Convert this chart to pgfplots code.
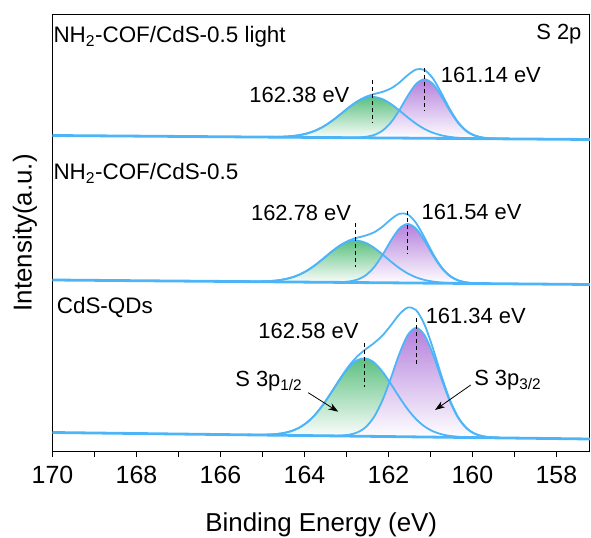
\documentclass[border=0pt]{standalone}
\usepackage{fontspec}
\setmainfont{Liberation Sans}
\usepackage{pgfplots}
\usepackage{pgfplotstable}
\pgfplotsset{compat=1.18}
\usetikzlibrary{arrows.meta}
\definecolor{lb}{RGB}{77,181,247}
\definecolor{gT}{RGB}{92,192,128}
\definecolor{pT}{RGB}{180,128,220}

\pgfplotstableread{
e b g p env
159.34 100.09 100.09 100.20 100.20
159.54 100.19 100.20 100.61 100.62
159.74 100.29 100.32 101.64 101.67
159.94 100.39 100.48 104.17 104.26
160.14 100.49 100.74 109.72 109.97
160.34 100.60 101.22 120.22 120.84
160.54 100.70 102.11 137.07 138.48
160.74 100.80 103.78 159.59 162.57
160.94 100.90 106.73 183.75 189.58
161.14 101.00 111.55 202.77 213.32
161.34 101.10 118.80 210.10 227.80
161.54 101.20 128.68 202.97 230.45
161.74 101.31 140.80 184.16 223.65
161.94 101.41 153.95 160.20 212.74
162.14 101.51 166.23 137.88 202.60
162.34 101.61 175.40 121.23 195.02
162.54 101.71 179.59 110.94 188.82
162.74 101.81 177.91 105.59 181.69
162.94 101.92 170.76 103.27 172.11
163.14 102.02 159.66 102.44 160.08
163.34 102.12 146.81 102.23 146.92
163.54 102.22 134.29 102.22 134.29
163.74 102.32 123.62 102.32 123.62
163.94 102.42 115.52 102.42 115.52
164.14 102.53 109.99 102.53 109.99
164.34 102.63 106.56 102.63 106.56
164.54 102.73 104.65 102.73 104.65
164.74 102.83 103.70 102.83 103.70
164.94 102.93 103.29 102.93 103.29
165.14 103.04 103.18 103.04 103.18
165.34 103.14 103.19 103.14 103.19
}\qd

\pgfplotstableread{
e b g p env
159.54 254.32 254.32 254.34 254.34
159.74 254.39 254.40 254.46 254.47
159.94 254.46 254.48 254.74 254.76
160.14 254.53 254.58 255.53 255.58
160.34 254.61 254.74 257.55 257.68
160.54 254.68 255.01 262.03 262.36
160.74 254.75 255.51 270.31 271.07
160.94 254.82 256.42 282.70 284.30
161.14 254.89 258.03 297.17 300.31
161.34 254.96 260.64 309.25 314.93
161.54 255.03 264.56 314.03 323.56
161.74 255.10 269.90 309.39 324.19
161.94 255.17 276.43 297.45 318.71
162.14 255.24 283.53 283.12 311.41
162.34 255.31 290.16 270.87 305.72
162.54 255.38 295.11 262.73 302.46
162.74 255.45 297.39 258.39 300.33
162.94 255.52 296.50 256.52 297.50
163.14 255.59 292.66 255.87 292.94
163.34 255.66 286.70 255.73 286.77
163.54 255.73 279.79 255.73 279.79
163.74 255.80 273.07 255.80 273.07
163.94 255.88 267.35 255.88 267.35
164.14 255.95 263.01 255.95 263.01
164.34 256.02 260.04 256.02 260.04
164.54 256.09 258.21 256.09 258.21
164.74 256.16 257.19 256.16 257.19
164.94 256.22 256.69 256.22 256.69
165.14 256.29 256.48 256.29 256.48
165.34 256.36 256.44 256.36 256.44
165.54 256.43 256.46 256.43 256.46
}\cof

\pgfplotstableread{
e b g p env
159.14 399.11 399.11 399.13 399.13
159.34 399.17 399.18 399.24 399.25
159.54 399.23 399.25 399.51 399.53
159.74 399.29 399.34 400.29 400.34
159.94 399.36 399.49 402.30 402.43
160.14 399.42 399.74 406.77 407.09
160.34 399.48 400.22 415.04 415.78
160.54 399.54 401.11 427.42 428.99
160.74 399.61 402.67 441.89 444.95
160.94 399.67 405.22 453.96 459.51
161.14 399.73 409.03 458.73 468.03
161.34 399.79 414.23 454.08 468.52
161.54 399.86 420.62 442.14 462.90
161.74 399.92 427.54 427.80 455.42
161.94 399.98 434.00 415.54 449.56
162.14 400.04 438.83 407.39 446.18
162.34 400.11 441.05 403.05 443.99
162.54 400.17 440.17 401.17 441.17
162.74 400.23 436.41 400.51 436.69
162.94 400.29 430.59 400.36 430.66
163.14 400.36 423.85 400.36 423.85
163.34 400.42 417.28 400.42 417.28
163.54 400.48 411.68 400.48 411.68
163.74 400.54 407.43 400.54 407.43
163.94 400.61 404.53 400.61 404.53
164.14 400.67 402.74 400.67 402.74
164.34 400.73 401.74 400.73 401.74
164.54 400.79 401.25 400.79 401.25
164.74 400.86 401.05 400.86 401.05
164.94 400.92 400.99 400.92 400.99
165.14 400.98 401.00 400.98 401.00
}\lig

\begin{document}
\begin{tikzpicture}
\begin{axis}[
  scale only axis, width=537.5bp, height=436.5bp,
  x dir=reverse, xmin=157.2, xmax=170, ymin=87, ymax=523.5,
  xtick={158,160,162,164,166,168,170}, minor xtick={159,161,163,165,167,169},
  xtick pos=left, ytick=\empty,
  tick align=outside, major tick length=6bp, minor tick length=6bp,
  every tick/.style={black, line width=1bp},
  axis line style={black, line width=1bp},
  /pgf/number format/assume math mode=true,
  xticklabel style={font=\fontsize{25}{29}\selectfont, yshift=-6bp},
  xlabel={Binding Energy (eV)}, ylabel={Intensity(a.u.)},
  label style={font=\fontsize{26}{30}\selectfont},
  xlabel style={at={(axis description cs:0.5,0)}, anchor=base, yshift=-80bp},
  ylabel style={at={(axis description cs:-0.0512,0.5)}, anchor=center},
  every axis plot/.append style={smooth},
]
\coordinate (LL) at (axis cs:170,87);
\coordinate (UR) at (axis cs:157.2,523.5);
% fills
\addplot[draw=none, top color=gT, bottom color=white] table[x=e,y=g] {\qd};
\addplot[draw=none, top color=pT, bottom color=white] table[x=e,y=p] {\qd};
\addplot[draw=none, top color=gT, bottom color=white] table[x=e,y=g] {\cof};
\addplot[draw=none, top color=pT, bottom color=white] table[x=e,y=p] {\cof};
\addplot[draw=none, top color=gT, bottom color=white] table[x=e,y=g] {\lig};
\addplot[draw=none, top color=pT, bottom color=white] table[x=e,y=p] {\lig};
% outlines
\addplot[lb, line width=1.8bp] table[x=e,y=g] {\qd};
\addplot[lb, line width=1.8bp] table[x=e,y=p] {\qd};
\addplot[lb, line width=1.8bp] table[x=e,y=env] {\qd};
\addplot[lb, line width=1.8bp] table[x=e,y=g] {\cof};
\addplot[lb, line width=1.8bp] table[x=e,y=p] {\cof};
\addplot[lb, line width=1.8bp] table[x=e,y=env] {\cof};
\addplot[lb, line width=1.8bp] table[x=e,y=g] {\lig};
\addplot[lb, line width=1.8bp] table[x=e,y=p] {\lig};
\addplot[lb, line width=1.8bp] table[x=e,y=env] {\lig};
% backgrounds
\addplot[lb, line width=2.8bp, sharp plot] coordinates {(170,105.5) (157.2,99)};
\addplot[lb, line width=2.8bp, sharp plot] coordinates {(170,258) (157.2,253.5)};
\addplot[lb, line width=2.8bp, sharp plot] coordinates {(170,402.5) (157.2,398.5)};
% dashed markers
\addplot[black, sharp plot, line width=0.9bp, dash pattern=on 4bp off 3bp] coordinates {(162.58,195) (162.58,151)};
\addplot[black, sharp plot, line width=0.9bp, dash pattern=on 4bp off 3bp] coordinates {(161.34,219.7) (161.34,174)};
\addplot[black, sharp plot, line width=0.9bp, dash pattern=on 4bp off 3bp] coordinates {(162.78,314.7) (162.78,270.7)};
\addplot[black, sharp plot, line width=0.9bp, dash pattern=on 4bp off 3bp] coordinates {(161.54,327) (161.54,284)};
\addplot[black, sharp plot, line width=0.9bp, dash pattern=on 4bp off 3bp] coordinates {(162.38,458) (162.38,415.3)};
\addplot[black, sharp plot, line width=0.9bp, dash pattern=on 4bp off 3bp] coordinates {(161.14,469.7) (161.14,427.3)};
% labels
\begin{scope}[every node/.style={font=\fontsize{22}{26}\selectfont, inner sep=0pt}]
\node[anchor=base] at (axis cs:163.905,199.7) {162.58 eV};
\node[anchor=base] at (axis cs:159.92,214.7) {161.34 eV};
\node[anchor=base] at (axis cs:164.08,317) {162.78 eV};
\node[anchor=base] at (axis cs:160.02,318) {161.54 eV};
\node[anchor=base] at (axis cs:164.12,435.7) {162.38 eV};
\node[anchor=base] at (axis cs:159.56,455.3) {161.14 eV};
\node[anchor=base west] at (axis cs:165.65,151.3) {S 3p\textsubscript{1/2}};
\node[anchor=base west] at (axis cs:159.96,153) {S 3p\textsubscript{3/2}};
\node[anchor=base west, font=\fontsize{22.5}{26}\selectfont] at (axis cs:169.98,495) {NH\textsubscript{2}-COF/CdS-0.5 light};
\node[anchor=base west, font=\fontsize{22.5}{26}\selectfont] at (axis cs:169.98,358) {NH\textsubscript{2}-COF/CdS-0.5};
\node[anchor=base west, font=\fontsize{22.5}{26}\selectfont] at (axis cs:169.9,224) {CdS-QDs};
\node[anchor=base east] at (axis cs:157.4,498.7) {S 2p};
\end{scope}
\draw[-{Stealth[length=10bp,width=7bp]}, line width=0.8bp] (axis cs:163.91,145.3) -- (axis cs:163.195,126.3);
\draw[-{Stealth[length=10bp,width=7bp]}, line width=0.8bp] (axis cs:160.04,153) -- (axis cs:160.89,128);
\end{axis}
\pgfresetboundingbox
\path[use as bounding box] ([shift={(-52.5bp,-87bp)}]LL) rectangle ([shift={(1bp,14.5bp)}]UR);
\end{tikzpicture}
\end{document}
